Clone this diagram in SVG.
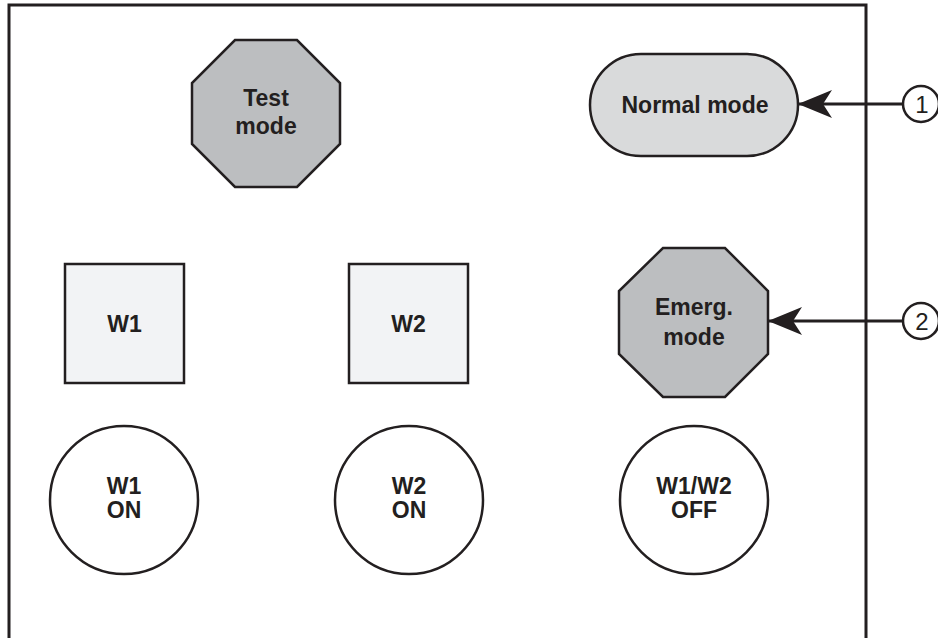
<svg xmlns="http://www.w3.org/2000/svg" width="938" height="638" viewBox="0 0 938 638">
<defs>
<style>
.sh{stroke:#231f20;stroke-width:2.5;}
.oct{fill:#bcbec0;}
.pill{fill:#d9dadb;}
.sq{fill:#f2f3f5;}
.cir{fill:#ffffff;}
.t{font-family:"Liberation Sans",Arial,sans-serif;font-weight:bold;font-size:23px;fill:#231f20;text-anchor:middle;}
.n{font-family:"Liberation Sans",Arial,sans-serif;font-size:24px;fill:#231f20;text-anchor:middle;}
.ln{stroke:#231f20;stroke-width:3;fill:none;}
.frame{stroke:#231f20;stroke-width:3;fill:none;}
</style>
<marker id="ah" markerUnits="userSpaceOnUse" viewBox="0 0 34 28" refX="34" refY="14" markerWidth="34" markerHeight="28" orient="auto">
<path d="M0,0 L34,14 L0,28 L9,14 Z" fill="#231f20"/>
</marker>
</defs>
<rect width="938" height="638" fill="#ffffff"/>
<path class="frame" d="M9,660 L9,5 L866,5 L866,660"/>

<g id="test-mode">
<polygon class="sh oct" points="235,40 297,40 340,83 340,144 297,187 235,187 192,144 192,83"/>
<text class="t" x="266" y="106">Test</text>
<text class="t" x="266" y="134">mode</text>
</g>

<g id="normal-mode">
<rect class="sh pill" x="590" y="54" width="208" height="102" rx="51" ry="51"/>
<text class="t" x="695" y="113">Normal mode</text>
</g>

<g id="w1">
<rect class="sh sq" x="65" y="264" width="119" height="119"/>
<text class="t" x="124.5" y="332">W1</text>
</g>

<g id="w2">
<rect class="sh sq" x="349" y="264" width="119" height="119"/>
<text class="t" x="408.5" y="332">W2</text>
</g>

<g id="emerg-mode">
<polygon class="sh oct" points="663,248 725,248 768,291 768,354 725,397 663,397 619,354 619,291"/>
<text class="t" x="694" y="315">Emerg.</text>
<text class="t" x="694" y="345">mode</text>
</g>

<g id="w1-on">
<circle class="sh cir" cx="124" cy="500" r="74"/>
<text class="t" x="124" y="494">W1</text>
<text class="t" x="124" y="518">ON</text>
</g>

<g id="w2-on">
<circle class="sh cir" cx="409" cy="500" r="74"/>
<text class="t" x="409" y="494">W2</text>
<text class="t" x="409" y="518">ON</text>
</g>

<g id="w1w2-off">
<circle class="sh cir" cx="694" cy="500" r="74"/>
<text class="t" x="694" y="494">W1/W2</text>
<text class="t" x="694" y="518">OFF</text>
</g>

<g id="callout-1">
<circle class="sh cir" cx="921" cy="104" r="18" stroke-width="1.8"/>
<text class="n" x="922" y="113">1</text>
</g>

<g id="callout-2">
<circle class="sh cir" cx="921" cy="321" r="18" stroke-width="1.8"/>
<text class="n" x="922" y="330">2</text>
</g>

<g id="connectors">
<line class="ln" x1="903" y1="104" x2="798" y2="104" marker-end="url(#ah)"/>
<line class="ln" x1="903" y1="321" x2="768" y2="321" marker-end="url(#ah)"/>
</g>
</svg>
